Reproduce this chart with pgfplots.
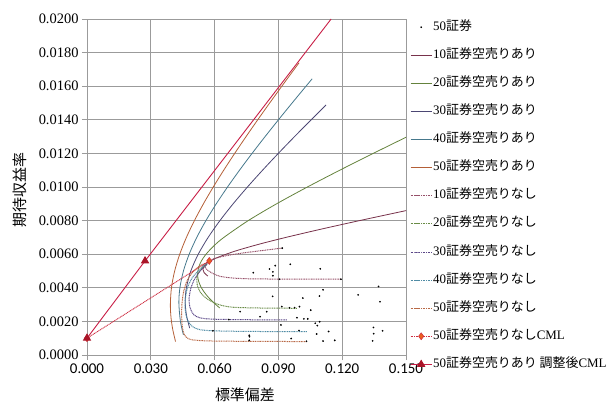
\documentclass[border=0pt]{standalone}
\usepackage{pgfplots}
\pgfplotsset{compat=1.18}
\usepackage{fontspec}
\setmainfont{Liberation Serif}
\newfontfamily\jp{Noto Sans CJK JP}
\newfontfamily\carl{Carlito}
\newfontfamily\tms{Liberation Serif}
\newcommand\J[1]{{\jp #1}}
\definecolor{gridgray}{RGB}{155,155,155}
\definecolor{c10}{RGB}{120,50,75}
\definecolor{c20}{RGB}{100,130,60}
\definecolor{c30}{RGB}{75,70,115}
\definecolor{c40}{RGB}{70,120,140}
\definecolor{c50}{RGB}{180,95,55}
\definecolor{n10}{RGB}{150,80,105}
\definecolor{n20}{RGB}{105,140,70}
\definecolor{n30}{RGB}{90,70,135}
\definecolor{n40}{RGB}{80,140,165}
\definecolor{n50}{RGB}{185,105,70}
\definecolor{cmlN}{RGB}{205,45,65}
\definecolor{cmlNm}{RGB}{235,95,30}
\definecolor{cmlA}{RGB}{200,30,70}
\definecolor{cmlAm}{RGB}{170,20,40}
\begin{document}
\begin{tikzpicture}
\useasboundingbox (-87bp,-48bp) rectangle (527bp,355bp);
\begin{axis}[
  scale only axis, width=319bp, height=336bp,
  xmin=0, xmax=0.15, ymin=0, ymax=0.02,
  xtick={0,0.03,0.06,0.09,0.12,0.15},
  ytick={0,0.002,0.004,0.006,0.008,0.01,0.012,0.014,0.016,0.018,0.02},
  scaled x ticks=false, scaled y ticks=false,
  xticklabel={\carl\pgfmathprintnumber[fixed,fixed zerofill,precision=3,assume math mode=true]{\tick}},
  yticklabel={\tms\pgfmathprintnumber[fixed,fixed zerofill,precision=4,assume math mode=true]{\tick}},
  x tick label style={font=\fontsize{15}{15}\selectfont},
  y tick label style={font=\fontsize{14.5}{15}\selectfont},
  grid=major, major grid style={gridgray, line width=0.9bp},
  axis line style={gridgray, line width=0.9bp},
  tick pos=left, tick align=outside, major tick length=5bp,
  tick style={gridgray, line width=0.8bp},
  xlabel={\J{標準偏差}}, ylabel={\J{期待収益率}},
  xlabel style={at={(axis description cs:0.495,-0.119)}, anchor=center, font=\fontsize{15}{15}\selectfont},
  ylabel style={at={(axis description cs:-0.21,0.49)}, anchor=center, font=\fontsize{15}{15}\selectfont},
  legend style={at={(1,1)}, anchor=north west, xshift=4bp, yshift=-1bp, draw=none, fill=none, inner sep=0pt, font=\fontsize{13}{14}\selectfont, row sep=14.1bp, nodes={inner sep=1bp, text height=9bp, text depth=3bp}},
  legend cell align=left,
  legend image code/.code={\draw[mark repeat=2, mark phase=2, #1] plot coordinates {(0bp,0bp) (10.5bp,0bp) (21bp,0bp)};},
]
% 50 securities
\addplot[only marks, mark=*, mark size=0.65bp, black] coordinates {
(0.0782,0.0049) (0.0858,0.00512) (0.0885,0.00532) (0.0874,0.00495) (0.0874,0.00472)
(0.0956,0.0054) (0.1097,0.00513) (0.0905,0.00451) (0.0873,0.00349) (0.1110,0.00388)
(0.1093,0.00351) (0.1015,0.00339) (0.1275,0.00358) (0.1371,0.00408) (0.1378,0.00317)
(0.0720,0.00258) (0.0845,0.00258) (0.0916,0.00288) (0.0952,0.00281) (0.0976,0.00282)
(0.0999,0.00288) (0.1052,0.00267) (0.0814,0.00228) (0.0987,0.00222) (0.1020,0.00215)
(0.1038,0.00215) (0.0667,0.00211) (0.0912,0.00179) (0.1073,0.00189) (0.1083,0.00175)
(0.1094,0.00198) (0.0592,0.00144) (0.0997,0.00146) (0.1080,0.00125) (0.1136,0.0014)
(0.0763,0.00117) (0.0764,0.00109) (0.0763,0.00087) (0.0960,0.00098) (0.1032,0.00082)
(0.1110,0.00083) (0.1165,0.00087) (0.1347,0.00164) (0.1348,0.00127) (0.1390,0.00144)
(0.1343,0.00084) (0.0918,0.00636) (0.1194,0.00451) (0.0575,0.0056)
};
\addlegendentry{50\J{証券}}
% with short sales
\addplot[c10, line width=0.8bp, smooth] coordinates {
(0.0568,0.0047) (0.05508,0.0049) (0.0545,0.0051) (0.05508,0.0053) (0.0568,0.0055) (0.06127,0.0058) (0.07005,0.0062) (0.08106,0.0066) (0.09352,0.007) (0.11039,0.0075) (0.12817,0.008) (0.14651,0.0085) (0.15024,0.0086)
};
\addlegendentry{10\J{証券空売りあり}}
\addplot[c20, line width=0.8bp, smooth] coordinates {
(0.06239,0.0028) (0.05886,0.0032) (0.05597,0.0036) (0.0538,0.004) (0.05246,0.0044) (0.052,0.0048) (0.05246,0.0052) (0.0538,0.0056) (0.05597,0.006) (0.05969,0.0065) (0.06436,0.007) (0.07582,0.008) (0.08915,0.009) (0.10364,0.01) (0.11887,0.011) (0.13459,0.012) (0.15064,0.013)
};
\addlegendentry{20\J{証券空売りあり}}
\addplot[c30, line width=0.8bp, smooth] coordinates {
(0.04828,0.0016) (0.04673,0.0024) (0.0462,0.0032) (0.04673,0.004) (0.04882,0.005) (0.05232,0.006) (0.05697,0.007) (0.06251,0.008) (0.06872,0.009) (0.07545,0.01) (0.08256,0.011) (0.08996,0.012) (0.09759,0.013) (0.1054,0.014) (0.11239,0.01488)
};
\addlegendentry{30\J{証券空売りあり}}
\addplot[c40, line width=0.8bp, smooth] coordinates {
(0.04534,0.0012) (0.04393,0.002) (0.0432,0.0031) (0.04369,0.004) (0.04534,0.005) (0.04804,0.006) (0.05162,0.007) (0.05592,0.008) (0.06078,0.009) (0.06608,0.01) (0.07172,0.011) (0.07762,0.012) (0.08374,0.013) (0.09003,0.014) (0.09645,0.015) (0.10298,0.016) (0.10588,0.01644)
};
\addlegendentry{40\J{証券空売りあり}}
\addplot[c50, line width=0.8bp, smooth] coordinates {
(0.04163,0.0008) (0.04035,0.0015) (0.03953,0.0022) (0.0392,0.003) (0.03971,0.004) (0.04122,0.005) (0.04361,0.006) (0.04675,0.007) (0.05051,0.008) (0.05475,0.009) (0.05937,0.01) (0.06429,0.011) (0.06945,0.012) (0.07479,0.013) (0.08028,0.014) (0.0859,0.015) (0.09161,0.016) (0.09741,0.017) (0.09975,0.0174)
};
\addlegendentry{50\J{証券空売りあり}}
% without short sales
\addplot[n10, line width=1bp, dash pattern=on 1bp off 0.7bp, smooth] coordinates {
(0.1194,0.00451) (0.09,0.00452) (0.075,0.00454) (0.067,0.0046) (0.062,0.0047) (0.0585,0.0049) (0.0562,0.0051) (0.0555,0.0053) (0.0565,0.0055) (0.059,0.0057) (0.065,0.0059) (0.075,0.0061) (0.0916,0.00636)
};
\addlegendentry{10\J{証券空売りなし}}
\addplot[n20, line width=1bp, dash pattern=on 1bp off 0.7bp, smooth] coordinates {
(0.0987,0.00278) (0.08,0.0028) (0.068,0.00285) (0.062,0.003) (0.057,0.0033) (0.0535,0.0037) (0.0518,0.0042) (0.0518,0.0047) (0.0535,0.0051) (0.0565,0.0054)
};
\addlegendentry{20\J{証券空売りなし}}
\addplot[n30, line width=1bp, dash pattern=on 1bp off 0.7bp, smooth] coordinates {
(0.094,0.00209) (0.075,0.0021) (0.06,0.00213) (0.0535,0.0022) (0.0502,0.0024) (0.0485,0.0028) (0.048,0.0033) (0.0487,0.0039) (0.0505,0.0045) (0.0532,0.005) (0.0565,0.0054)
};
\addlegendentry{30\J{証券空売りなし}}
\addplot[n40, line width=1bp, dash pattern=on 1bp off 0.7bp, smooth] coordinates {
(0.1034,0.00139) (0.08,0.0014) (0.062,0.00143) (0.0535,0.0015) (0.0495,0.0017) (0.0472,0.0021) (0.0462,0.0027) (0.0462,0.0033) (0.0472,0.004) (0.0495,0.0046) (0.053,0.0051) (0.0565,0.0055)
};
\addlegendentry{40\J{証券空売りなし}}
\addplot[n50, line width=1bp, dash pattern=on 1bp off 0.7bp, smooth] coordinates {
(0.1034,0.0008) (0.08,0.00081) (0.06,0.00083) (0.052,0.00087) (0.048,0.00095) (0.0458,0.0012) (0.0448,0.0017) (0.0445,0.0024) (0.0447,0.0031) (0.0455,0.0038) (0.047,0.0044) (0.0495,0.0049) (0.053,0.0053) (0.0565,0.0055)
};
\addlegendentry{50\J{証券空売りなし}}
% CML without short sales
\addplot[cmlN, line width=0.9bp, dash pattern=on 1bp off 0.7bp, mark=diamond*, mark size=3.5bp, mark options={solid, fill=cmlNm, draw=cmlN, line width=0.5bp}] coordinates {
(0,0.001) (0.0575,0.0056)
};
\addlegendentry{50\J{証券空売りなし}CML}
% adjusted CML with short sales
\addplot[cmlA, line width=0.9bp, forget plot] coordinates {
(0.0273,0.0056) (0.1148,0.02)
};
\addplot[cmlA, line width=0.9bp, mark=triangle*, mark size=4bp, mark options={fill=cmlAm, draw=cmlAm}] coordinates {
(0,0.001) (0.0273,0.0056)
};
\addlegendentry{50\J{証券空売りあり 調整後}CML}
\end{axis}
\end{tikzpicture}
\end{document}
